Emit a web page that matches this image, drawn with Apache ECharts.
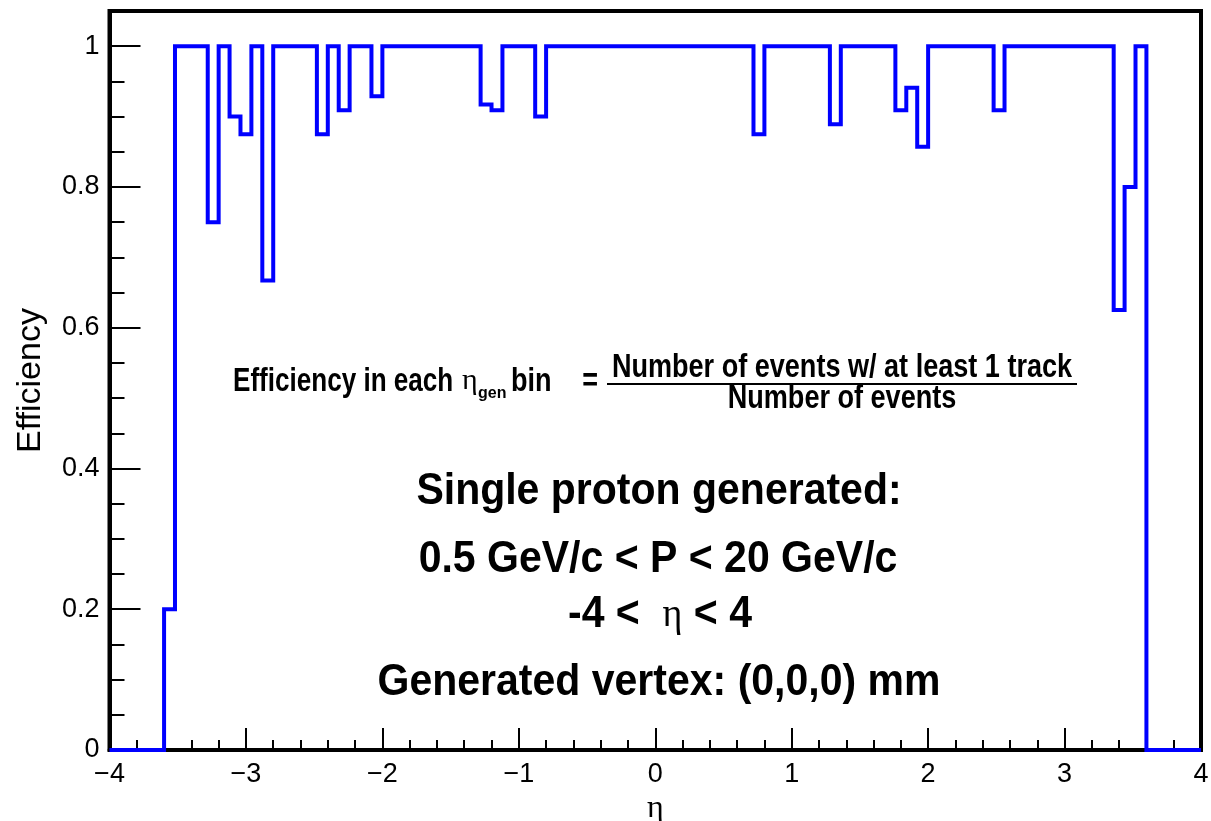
<!DOCTYPE html>
<html>
<head>
<meta charset="utf-8">
<script src="https://cdn.jsdelivr.net/npm/echarts@6/dist/echarts.min.js"></script>
<style>
html,body{margin:0;padding:0;background:#fff;}
#chart{width:1211px;height:821px;}
</style>
</head>
<body>
<div id="chart"></div>
<script>
// Histogram definition: 100 bins in eta from -4 to 4
const nBins = 100;
const etaMin = -4;
const etaMax = 4;
// Efficiency per eta bin
const efficiency = [
  0, 0, 0, 0, 0, 0.2, 1, 1, 1, 0.75,
  1, 0.9, 0.875, 1, 0.667, 1, 1, 1, 1, 0.875,
  1, 0.909, 1, 1, 0.929, 1, 1, 1, 1, 1,
  1, 1, 1, 1, 0.917, 0.909, 1, 1, 1, 0.9,
  1, 1, 1, 1, 1, 1, 1, 1, 1, 1,
  1, 1, 1, 1, 1, 1, 1, 1, 1, 0.875,
  1, 1, 1, 1, 1, 1, 0.889, 1, 1, 1,
  1, 1, 0.909, 0.941, 0.857, 1, 1, 1, 1, 1,
  1, 0.909, 1, 1, 1, 1, 1, 1, 1, 1,
  1, 1, 0.625, 0.8, 1, 0, 0, 0, 0, 0
];
const xTickValues = [-4, -3, -2, -1, 0, 1, 2, 3, 4];
const xTickLabels = ['\u22124', '\u22123', '\u22122', '\u22121', '0', '1', '2', '3', '4'];
const yTickValues = [0, 0.2, 0.4, 0.6, 0.8, 1];
const yTickLabels = ['0', '0.2', '0.4', '0.6', '0.8', '1'];

const binWidth = (etaMax - etaMin) / nBins;
const stepData = efficiency.map((v, k) => [etaMin + k * binWidth, v]);
stepData.push([etaMax, efficiency[nBins - 1]]);

function labelFor(values, labels, v) {
  for (let i = 0; i < values.length; i++) {
    if (Math.abs(values[i] - v) < 1e-6) return labels[i];
  }
  return '';
}

const chart = echarts.init(document.getElementById('chart'), null, {renderer: 'canvas'});
const SANS = "'Liberation Sans', Arial, sans-serif";
const SERIF = "'Liberation Serif', 'Times New Roman', serif";

chart.setOption({
  animation: false,
  backgroundColor: '#fff',
  grid: {
    left: 109.5, right: 10, top: 11, bottom: 71,
    outerBoundsMode: 'none', containLabel: false,
    show: true, borderColor: '#000', borderWidth: 4, backgroundColor: 'transparent'
  },
  xAxis: {
    type: 'value', min: etaMin, max: etaMax, interval: 1,
    axisLine: {show: true, onZero: false, lineStyle: {color: '#000', width: 4}},
    axisTick: {show: true, inside: true, length: 22, lineStyle: {color: '#000', width: 2}},
    minorTick: {show: true, splitNumber: 5, length: 10, lineStyle: {color: '#000', width: 2}},
    splitLine: {show: false},
    minorSplitLine: {show: false},
    axisLabel: {
      color: '#000', fontFamily: SANS, fontSize: 27, margin: 11,
      formatter: v => labelFor(xTickValues, xTickLabels, v),
      showMinLabel: true, showMaxLabel: true, hideOverlap: false
    },
    name: '\u03b7', nameLocation: 'middle', nameGap: 40,
    nameTextStyle: {fontFamily: SERIF, fontSize: 32, color: '#000'}
  },
  yAxis: [{
    type: 'value', min: 0, max: 1.05, interval: 0.2,
    axisLine: {show: true, onZero: false, lineStyle: {color: '#000', width: 4}},
    axisTick: {show: true, inside: true, length: 31, lineStyle: {color: '#000', width: 2}},
    splitLine: {show: false},
    axisLabel: {
      color: '#000', fontFamily: SANS, fontSize: 27, margin: 10,
      formatter: v => labelFor(yTickValues, yTickLabels, v),
      showMaxLabel: false
    },
    name: 'Efficiency', nameLocation: 'middle', nameGap: 62,
    nameTextStyle: {fontFamily: SANS, fontSize: 34, color: '#000'}
  }, {
    type: 'value', min: 0, max: 1.05, interval: 0.05, position: 'left', offset: 0,
    axisLine: {show: false, onZero: false},
    axisTick: {show: true, inside: true, length: 15, lineStyle: {color: '#000', width: 2}},
    axisLabel: {show: false},
    splitLine: {show: false}
  }],
  series: [{
    type: 'line', step: 'end', data: stepData, xAxisIndex: 0, yAxisIndex: 0,
    symbol: 'none', clip: true,
    lineStyle: {color: '#0000ff', width: 4, join: 'miter', cap: 'butt'},
    z: 3
  }],
  graphic: [
    {type: 'text', x: 233, y: 382, scaleX: 0.79,
     style: {text: 'Efficiency in each', font: "bold 33px " + SANS, fill: '#000', textAlign: 'left', textVerticalAlign: 'middle'}},
    {type: 'text', x: 462, y: 381,
     style: {text: '\u03b7', font: "30px " + SERIF, fill: '#000', textAlign: 'left', textVerticalAlign: 'middle'}},
    {type: 'text', x: 478, y: 394,
     style: {text: 'gen', font: "bold 16px " + SANS, fill: '#000', textAlign: 'left', textVerticalAlign: 'middle'}},
    {type: 'text', x: 511, y: 382, scaleX: 0.82,
     style: {text: 'bin', font: "bold 33px " + SANS, fill: '#000', textAlign: 'left', textVerticalAlign: 'middle'}},
    {type: 'text', x: 598, y: 382, scaleX: 0.82,
     style: {text: '=', font: "bold 33px " + SANS, fill: '#000', textAlign: 'right', textVerticalAlign: 'middle'}},
    {type: 'text', x: 842, y: 368, scaleX: 0.82,
     style: {text: 'Number of events w/ at least 1 track', font: "bold 33px " + SANS, fill: '#000', textAlign: 'center', textVerticalAlign: 'middle'}},
    {type: 'line', shape: {x1: 607, y1: 384, x2: 1077, y2: 384}, style: {stroke: '#000', lineWidth: 2}},
    {type: 'text', x: 842, y: 399, scaleX: 0.82,
     style: {text: 'Number of events', font: "bold 33px " + SANS, fill: '#000', textAlign: 'center', textVerticalAlign: 'middle'}},
    {type: 'text', x: 659, y: 492, scaleY: 1.06,
     style: {text: 'Single proton generated:', font: "bold 41px " + SANS, fill: '#000', textAlign: 'center', textVerticalAlign: 'middle'}},
    {type: 'text', x: 658, y: 560, scaleY: 1.06,
     style: {text: '0.5 GeV/c < P < 20 GeV/c', font: "bold 41px " + SANS, fill: '#000', textAlign: 'center', textVerticalAlign: 'middle'}},
    {type: 'text', x: 660, y: 615, scaleY: 1.06,
     style: {text: '{b|-4 <  }{e|\u03b7}{b| < 4}', fill: '#000', textAlign: 'center', textVerticalAlign: 'middle',
       rich: {b: {font: "bold 41px " + SANS, fill: '#000'}, e: {font: "38px " + SERIF, fill: '#000'}}}},
    {type: 'text', x: 659, y: 683, scaleY: 1.06,
     style: {text: 'Generated vertex: (0,0,0) mm', font: "bold 41px " + SANS, fill: '#000', textAlign: 'center', textVerticalAlign: 'middle'}}
  ]
});
</script>
</body>
</html>
